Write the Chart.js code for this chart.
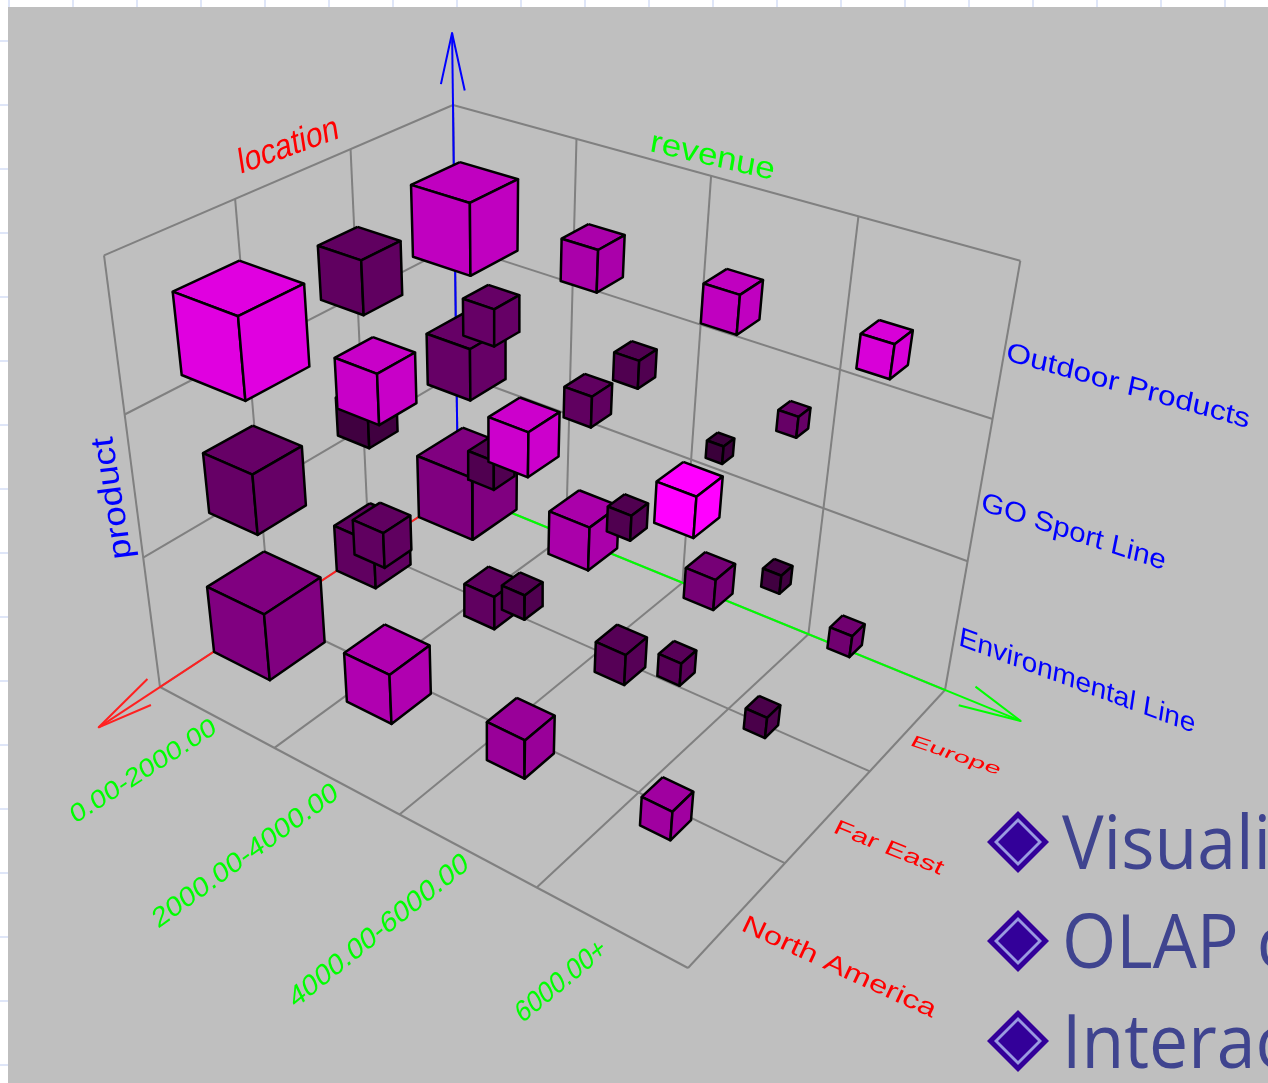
<!DOCTYPE html>
<html>
<head>
<meta charset="utf-8">
<title>Revenue cube</title>
<script src="https://cdn.jsdelivr.net/npm/chart.js@4"></script>
<style>
  html, body { margin: 0; padding: 0; background: #fff; overflow: hidden; }
  canvas { display: block; filter: blur(0.5px); }
</style>
</head>
<body>
<canvas id="cube" width="1268" height="1083"></canvas>
<script>
const revenueBins = ['0.00-2000.00', '2000.00-4000.00', '4000.00-6000.00', '6000.00+'];
const locations = ['Europe', 'Far East', 'North America'];
const products = ['Environmental Line', 'GO Sport Line', 'Outdoor Products'];
const bulletLines = ['Visualization', 'OLAP capabilities', 'Interactive manipulation'];

// measure behind the cube volume, [location][revenue bin]
const envSize = [[141, 96, 66, 45], [100, 70, 64, 42], [141, 103, 79, 58]];
const sportSize = [[107, 63, 35, null], [77, 57, 48, 34], [117, 66, 45, 40]];
const outdoorSize = [[138, 79, 72, 61], [100, 66, 48, 35], [147, 87, 74, 66]];

// measure behind the cube colour, 0-255
const envShade = [[128, 170, 118, 112], [96, 96, 86, 74], [128, 176, 153, 160]];
const sportShade = [[102, 96, 58, 0], [64, 80, 80, 64], [102, 96, 80, 88]];
const outdoorShade = [[192, 170, 192, 216], [96, 102, 80, 102], [224, 200, 204, 255]];

// box corners on the picture, used to fit the perspective
const corner = {
  o: [458, 491], r: [945, 690], l: [160, 687], f: [688, 968],
  p: [453, 105], pl: [98, 250], pr: [1012, 262]
};

function fitProjection(c) {
  const sub = (a, b) => [a[0] - b[0], a[1] - b[1]];
  const solve = (u, v, t) => {
    const det = u[0] * v[1] - u[1] * v[0];
    return [(t[0] * v[1] - t[1] * v[0]) / det, (u[0] * t[1] - u[1] * t[0]) / det];
  };
  const [wr, wl] = solve(sub(c.f, c.r), sub(c.f, c.l), sub(c.f, c.o));
  const wp = (solve(sub(c.pl, c.l), sub(c.pl, c.p), sub(c.pl, c.o))[1]
    + solve(sub(c.pr, c.r), sub(c.pr, c.p), sub(c.pr, c.o))[1]) / 2;
  const vec = (w, a) => [w * a[0] - c.o[0], w * a[1] - c.o[1]];
  return { wr, wl, wp, a: vec(wr, c.r), b: vec(wl, c.l), d: vec(wp, c.p) };
}
const cam = fitProjection(corner);

function project(r, l, p) {
  const w = 1 + (cam.wr - 1) * r + (cam.wl - 1) * l + (cam.wp - 1) * p;
  return {
    x: (corner.o[0] + cam.a[0] * r + cam.b[0] * l + cam.d[0] * p) / w,
    y: (corner.o[1] + cam.a[1] * r + cam.b[1] * l + cam.d[1] * p) / w
  };
}

const datasets = [];
function addLine(points, color, width) {
  datasets.push({
    data: points, showLine: true, fill: false, borderColor: color, borderWidth: width,
    pointRadius: 0, tension: 0, borderJoinStyle: 'round'
  });
}
function addFace(points, color) {
  datasets.push({
    data: points.concat([points[0]]), showLine: true, fill: 'shape', backgroundColor: color,
    borderColor: '#000', borderWidth: 2.5, pointRadius: 0, tension: 0, borderJoinStyle: 'round'
  });
}

// walls and floor
const gridGray = '#808080';
for (let i = 0; i <= revenueBins.length; i++) {
  const r = i / revenueBins.length;
  addLine([project(r, 0, 0), project(r, 1, 0)], gridGray, 2);
  addLine([project(r, 0, 0), project(r, 0, 1)], gridGray, 2);
}
for (let j = 0; j <= locations.length; j++) {
  const l = j / locations.length;
  addLine([project(0, l, 0), project(1, l, 0)], gridGray, 2);
  addLine([project(0, l, 0), project(0, l, 1)], gridGray, 2);
}
for (let k = 1; k <= products.length; k++) {
  const p = k / products.length;
  addLine([project(0, 0, p), project(1, 0, p)], gridGray, 2);
  addLine([project(0, 0, p), project(0, 1, p)], gridGray, 2);
}

// axes with open arrow heads
addLine([project(0, 0, 0), project(0, 1.17, 0)], '#ff2020', 2);
addLine([project(0, 1.03, 0.04), project(0, 1.17, 0), project(0, 1.03, -0.03)], '#ff2020', 2);
addLine([project(0, 0, 0), project(1.13, 0, 0)], '#00ff00', 2);
addLine([project(1.035, 0.03, 0), project(1.13, 0, 0), project(1.035, -0.05, 0)], '#00ff00', 2);
addLine([project(0, 0, 0), project(0, 0, 1.16)], '#0000ff', 2);
addLine([project(0.025, 0, 1.04), project(0, 0, 1.16), project(-0.025, 0, 1.04)], '#0000ff', 2);

// cubes, far ones first
const sizeByProduct = [envSize, sportSize, outdoorSize];
const shadeByProduct = [envShade, sportShade, outdoorShade];
const cubes = [];
products.forEach((_, k) => locations.forEach((_, j) => revenueBins.forEach((_, i) => {
  if (sizeByProduct[k][j][i] === null) return;
  cubes.push({
    r: (i + 0.5) / revenueBins.length,
    l: (j + 0.5) / locations.length,
    p: (k + 0.5) / products.length,
    size: sizeByProduct[k][j][i] / 233,
    shade: shadeByProduct[k][j][i]
  });
})));
cubes.sort((a, b) => (a.r + a.l + a.p) - (b.r + b.l + b.p));
cubes.forEach(c => {
  const dr = c.size / 10, dl = c.size / 7.3, dp = c.size / 7.2;
  const color = `rgb(${c.shade},0,${c.shade})`;
  const v = (sr, sl, sp) => project(c.r + sr * dr, c.l + sl * dl, c.p + sp * dp);
  addFace([v(-1, -1, 1), v(1, -1, 1), v(1, 1, 1), v(-1, 1, 1)], color);
  addFace([v(-1, 1, 1), v(1, 1, 1), v(1, 1, -1), v(-1, 1, -1)], color);
  addFace([v(1, -1, 1), v(1, 1, 1), v(1, 1, -1), v(1, -1, -1)], color);
});

// bullets on the slide
const bulletY = [842, 941, 1041];
[[31, '#330099'], [24, '#9a9ae0'], [20, '#330099']].forEach(([size, color]) => {
  datasets.push({
    data: bulletY.map(y => ({ x: 1018, y })), showLine: false,
    pointStyle: 'rectRot', pointRadius: size, backgroundColor: color, borderWidth: 0
  });
});

datasets.forEach((d, i) => { d.order = datasets.length - i; });

// start, end of the baseline and the height of the letters
const skewLabels = [
  { text: 'location', color: '#ff0000', from: [240, 174], to: [340, 138], up: [-4, -26] },
  { text: 'revenue', color: '#00ff00', from: [649, 151], to: [773, 180], up: [4, -23] },
  { text: 'product', color: '#0000ff', from: [132, 558], to: [112, 436], up: [-24, 3] },
  { text: revenueBins[0], color: '#00ff00', from: [75, 824], to: [218, 732], up: [-8, -17] },
  { text: revenueBins[1], color: '#00ff00', from: [158, 929], to: [340, 797], up: [-9, -18] },
  { text: revenueBins[2], color: '#00ff00', from: [295, 1009], to: [470, 868], up: [-9, -19] },
  { text: revenueBins[3], color: '#00ff00', from: [522, 1024], to: [608, 953], up: [-10, -19] },
  { text: locations[0], color: '#ff0000', from: [909, 745], to: [998, 775], up: [6, -11] },
  { text: locations[1], color: '#ff0000', from: [832, 832], to: [940, 875], up: [7, -14] },
  { text: locations[2], color: '#ff0000', from: [740, 930], to: [932, 1018], up: [8, -17] },
  { text: products[2], color: '#0000ff', from: [1005, 360], to: [1248, 428], up: [4, -20] },
  { text: products[1], color: '#0000ff', from: [980, 510], to: [1164, 570], up: [4, -20] },
  { text: products[0], color: '#0000ff', from: [958, 645], to: [1194, 733], up: [3, -20] }
];

const backdrop = {
  id: 'backdrop',
  beforeDraw(chart) {
    const { ctx, width, height } = chart;
    ctx.save();
    ctx.fillStyle = '#fff';
    ctx.fillRect(0, 0, width, height);
    // faint ruler ticks of the slide around the screenshot
    ctx.fillStyle = '#dfe6f8';
    for (let x = 8; x < width; x += 64) ctx.fillRect(x, 0, 2, 7);
    for (let y = 40; y < height; y += 64) ctx.fillRect(0, y, 8, 2);
    ctx.fillStyle = '#bfbfbf';
    ctx.fillRect(8, 7, width - 8, height - 7);
    ctx.restore();
  }
};

const slideText = {
  id: 'slideText',
  afterDraw(chart) {
    const { ctx } = chart;
    skewLabels.forEach(t => {
      ctx.save();
      ctx.font = '20px "Liberation Sans"';
      const w = ctx.measureText(t.text).width;
      ctx.transform(
        (t.to[0] - t.from[0]) / w, (t.to[1] - t.from[1]) / w,
        -t.up[0] / 15, -t.up[1] / 15,
        t.from[0], t.from[1]
      );
      ctx.fillStyle = t.color;
      ctx.fillText(t.text, 0, 0);
      ctx.restore();
    });
    bulletLines.forEach((line, i) => {
      ctx.save();
      ctx.font = '75px "Open Sans"';
      ctx.fillStyle = '#3f448f';
      ctx.transform(0.93, 0, 0, 1, 1062, bulletY[i] + 27);
      ctx.fillText(line, 0, 0);
      ctx.restore();
    });
  }
};

new Chart(document.getElementById('cube'), {
  type: 'scatter',
  data: { datasets },
  plugins: [backdrop, slideText],
  options: {
    responsive: false,
    animation: false,
    layout: { padding: 0, autoPadding: false },
    events: [],
    plugins: { legend: { display: false }, tooltip: { enabled: false } },
    scales: {
      x: { type: 'linear', display: false, min: 0, max: 1268 },
      y: { type: 'linear', display: false, min: 0, max: 1083, reverse: true }
    }
  }
});
</script>
</body>
</html>
